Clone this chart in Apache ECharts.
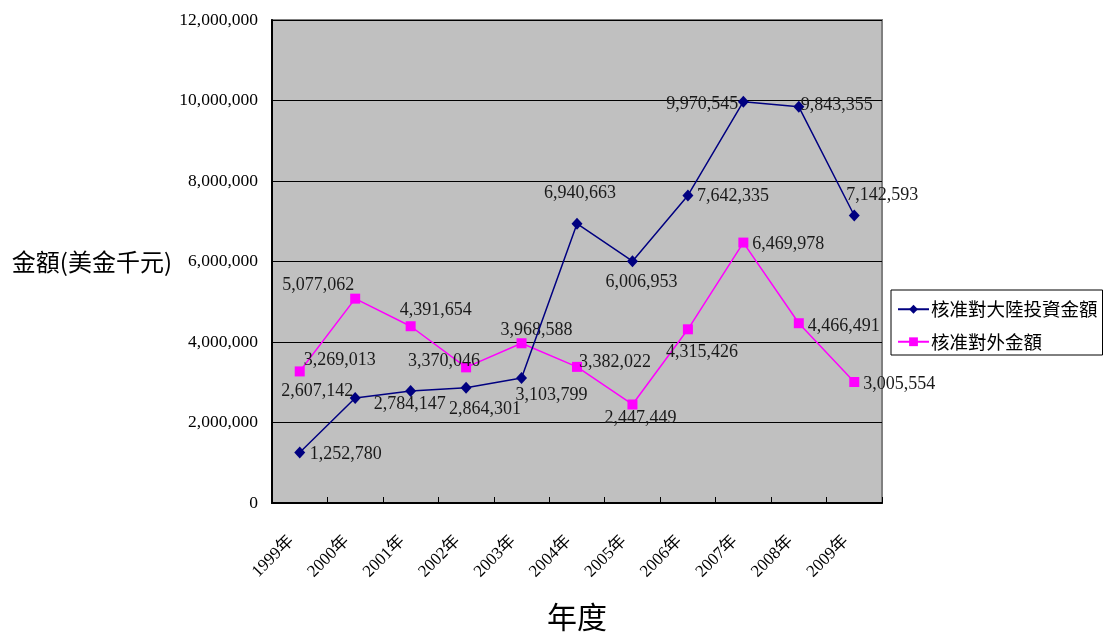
<!DOCTYPE html>
<html>
<head>
<meta charset="utf-8">
<style>
  html, body { margin: 0; padding: 0; background: #fff; }
  #chart { width: 1103px; height: 638px; }
</style>
<script src="https://cdn.jsdelivr.net/npm/echarts@6/dist/echarts.min.js"></script>
</head>
<body>
<div id="chart"></div>
<script>
// Years on the category axis
const years = ['1999年', '2000年', '2001年', '2002年', '2003年', '2004年', '2005年', '2006年', '2007年', '2008年', '2009年'];

// 核准對大陸投資金額 (US$ thousand)
const mainlandInvestment = [1252780, 2607142, 2784147, 2864301, 3103799, 6940663, 6006953, 7642335, 9970545, 9843355, 7142593];

// 核准對外金額 (US$ thousand)
const outwardInvestment = [3269013, 5077062, 4391654, 3370046, 3968588, 3382022, 2447449, 4315426, 6469978, 4466491, 3005554];

// Value-axis ticks
const yTicks = { min: 0, max: 12000000, interval: 2000000 };

// Where each value label sits relative to its point [dx, dy] (px)
const mainlandLabelOffsets = [[46, 2], [-38, -7], [-1, 13], [19, 22], [30, 17], [3, -30], [9, 21], [45, 1], [-41, 3], [38, -2], [28, -20]];
const outwardLabelOffsets = [[40, -11], [-37, -13], [25, -16], [-22, -6], [15, -13], [38, -5], [8, 14], [14, 23], [45, 2], [45, 3], [45, 2]];

const serif = '"Liberation Serif", "Noto Sans CJK TC", serif';
const cjk = '"Noto Sans CJK TC", sans-serif';

function thousands(v) {
  return String(Math.round(v)).replace(/\B(?=(\d{3})+(?!\d))/g, ',');
}

function withLabels(values, offsets) {
  return values.map((v, i) => ({
    value: v,
    label: { offset: offsets[i] }
  }));
}

const valueLabel = {
  show: true,
  position: 'inside',
  fontFamily: serif,
  fontSize: 18,
  color: '#1a1a1a',
  formatter: p => thousands(p.value)
};

const chart = echarts.init(document.getElementById('chart'), null, { renderer: 'canvas' });

chart.setOption({
  animation: false,
  backgroundColor: '#ffffff',
  grid: {
    left: 272, right: 221, top: 20, bottom: 135,
    show: true,
    backgroundColor: '#C0C0C0',
    borderColor: '#808080',
    borderWidth: 2
  },
  legend: {
    orient: 'vertical',
    left: 891, top: 290,
    backgroundColor: '#ffffff',
    borderColor: '#000000',
    borderWidth: 1,
    borderRadius: 0,
    padding: [10, 5, 4, 6],
    itemGap: 14,
    itemWidth: 31,
    itemHeight: 11,
    textStyle: { fontFamily: cjk, fontSize: 18.5, color: '#000', padding: [0, 0, 0, -3] },
    data: ['核准對大陸投資金額', '核准對外金額']
  },
  xAxis: {
    type: 'category',
    data: years,
    boundaryGap: true,
    name: '年度',
    nameLocation: 'middle',
    nameGap: 99,
    nameTextStyle: { fontFamily: cjk, fontSize: 30, color: '#000', verticalAlign: 'top' },
    axisLine: { lineStyle: { color: '#000', width: 2 } },
    axisTick: { show: true, inside: true, length: 6, alignWithLabel: false, lineStyle: { color: '#000', width: 1 } },
    axisLabel: {
      rotate: 45,
      interval: 0,
      margin: 27,
      padding: [0, 12, 0, 0],
      fontFamily: serif,
      fontSize: 17,
      color: '#000'
    },
    splitLine: { show: false }
  },
  yAxis: {
    type: 'value',
    min: yTicks.min,
    max: yTicks.max,
    interval: yTicks.interval,
    name: '金額(美金千元)',
    nameLocation: 'middle',
    nameRotate: 0,
    nameGap: 100,
    nameTextStyle: { fontFamily: cjk, fontSize: 24, color: '#000', align: 'right', padding: [4, 0, 0, 0] },
    axisLine: { show: true, lineStyle: { color: '#000', width: 2 } },
    axisTick: { show: true, inside: true, length: 5, lineStyle: { color: '#000' } },
    axisLabel: {
      margin: 14,
      fontFamily: serif,
      fontSize: 17.5,
      color: '#000',
      formatter: v => thousands(v)
    },
    splitLine: { show: true, lineStyle: { color: '#000', width: 1 } }
  },
  series: [
    {
      name: '核准對大陸投資金額',
      type: 'line',
      data: withLabels(mainlandInvestment, mainlandLabelOffsets),
      symbol: 'diamond',
      symbolSize: [11, 12],
      lineStyle: { color: '#000080', width: 1.5 },
      itemStyle: { color: '#000080' },
      label: valueLabel,
      z: 3
    },
    {
      name: '核准對外金額',
      type: 'line',
      data: withLabels(outwardInvestment, outwardLabelOffsets),
      symbol: 'rect',
      symbolSize: 10,
      lineStyle: { color: '#FF00FF', width: 1.5 },
      itemStyle: { color: '#FF00FF' },
      label: valueLabel,
      z: 2
    }
  ]
});
</script>
</body>
</html>
